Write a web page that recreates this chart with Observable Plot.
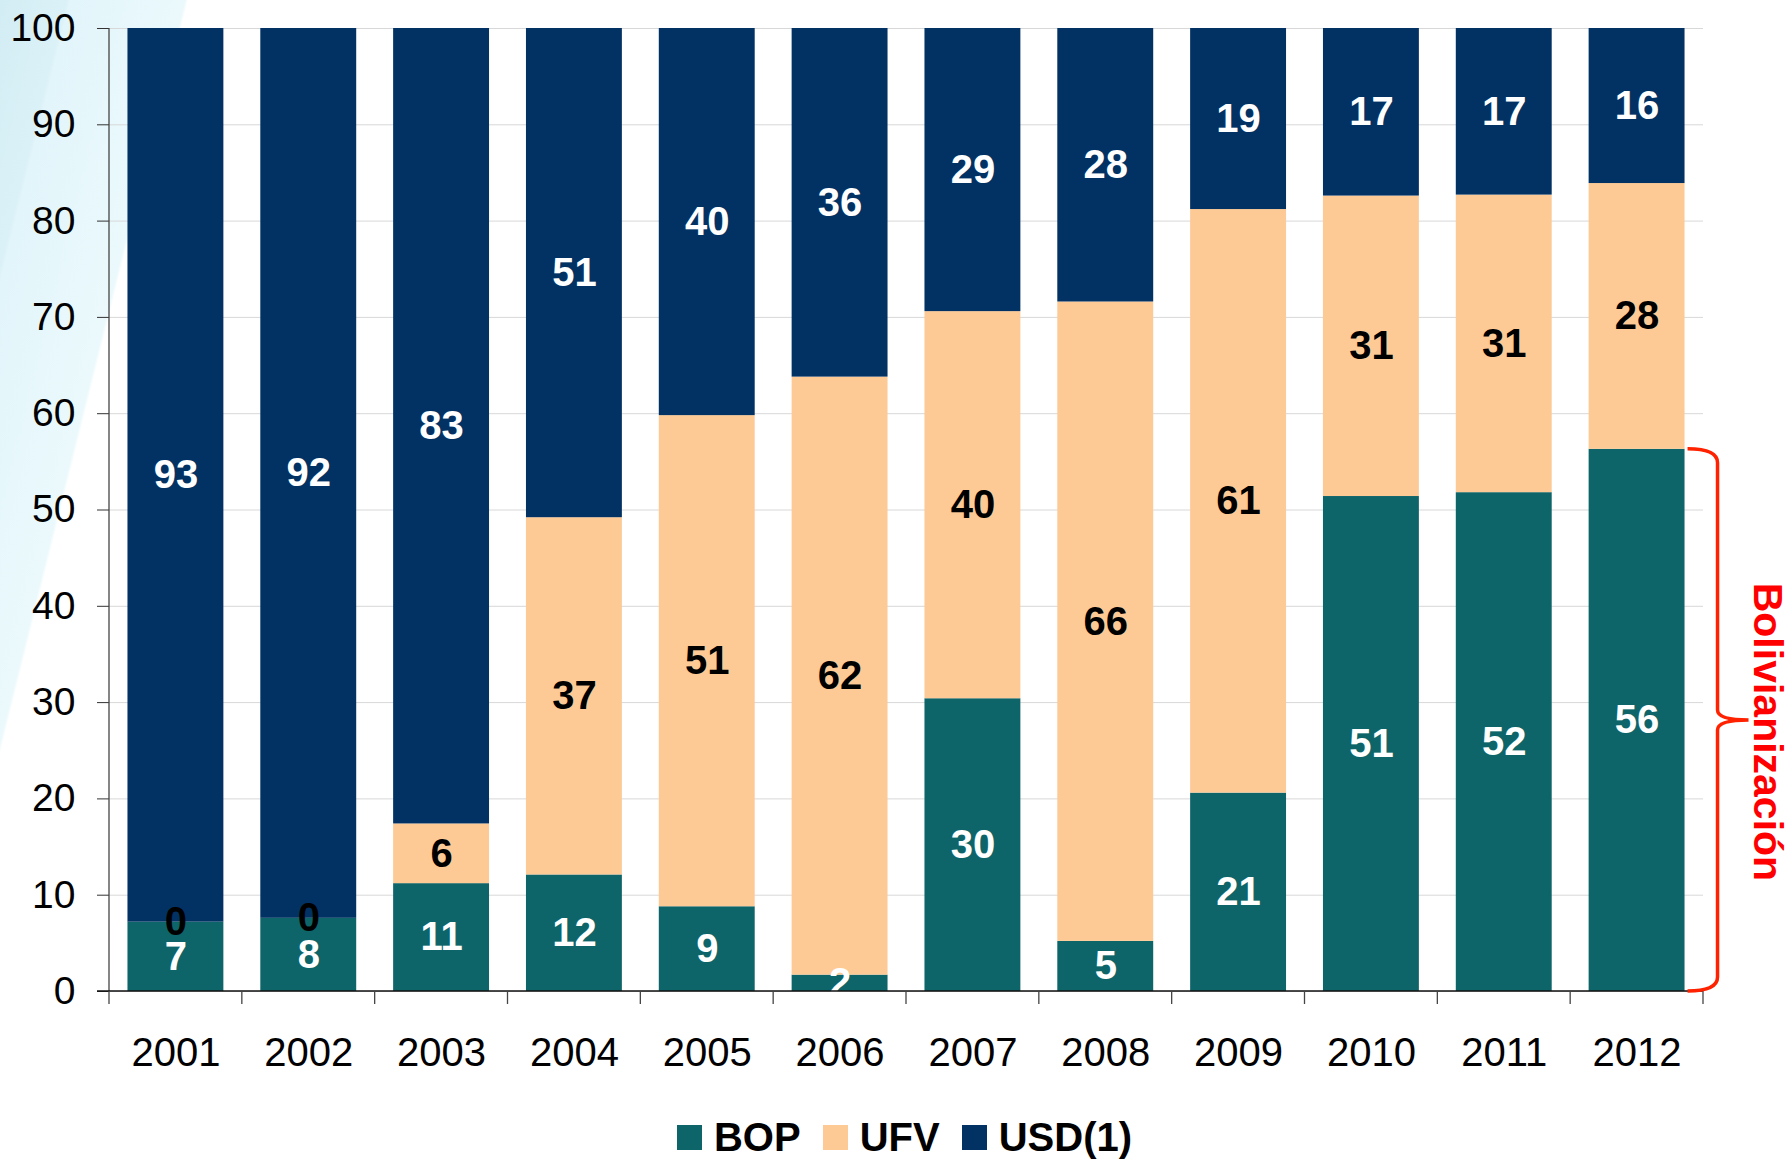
<!DOCTYPE html>
<html><head><meta charset="utf-8">
<script src="https://cdn.jsdelivr.net/npm/d3@7"></script>
<script src="https://cdn.jsdelivr.net/npm/@observablehq/plot@0.6"></script>
<style>
html,body{margin:0;padding:0;}
body{width:1791px;height:1159px;overflow:hidden;font-family:"Liberation Sans",Arial,sans-serif;color:#000;
background:linear-gradient(104deg,#d3edf4 0%,#daf1f7 3.2%,#e2f5fa 3.4%,#ebf9fc 8.9%,#ffffff 9.05%);}
#legend{display:flex;justify-content:center;align-items:center;margin-top:15px;height:44px;padding-left:18px;}
.item{display:flex;align-items:center;margin:0 11px;}
.sw{width:25px;height:25px;margin-right:12px;}
.lab{font-weight:bold;font-size:40px;line-height:44px;color:#000;}
</style></head><body><div id="chart"></div><div id="legend"></div>
<script>
const years = ["2001","2002","2003","2004","2005","2006","2007","2008","2009","2010","2011","2012"];
const seriesNames = ["BOP","UFV","USD(1)"];
const bop = [7.2, 7.6, 11.2, 12.1, 8.8, 1.7, 30.4, 5.2, 20.6, 51.4, 51.8, 56.3];
const ufv = [0, 0, 6.2, 37.1, 51.0, 62.1, 40.2, 66.4, 60.6, 31.2, 30.9, 27.6];
const usd = [92.8, 92.4, 82.6, 50.8, 40.2, 36.2, 29.4, 28.4, 18.8, 17.4, 17.3, 16.1];
const colors = ["#0e6569", "#fdca96", "#023263"];
const yTicks = [0, 10, 20, 30, 40, 50, 60, 70, 80, 90, 100];
const bracketLabel = "Bolivianización";

const seriesValues = [bop, ufv, usd];
const data = [];
years.forEach((yr, i) => {
  seriesNames.forEach((s, j) => data.push({year: yr, series: s, value: seriesValues[j][i]}));
});

const font = "'Liberation Sans', Arial, sans-serif";

function annotations(index, scales, values, dims) {
  const x = scales.x, y = scales.y;
  const bw = x.bandwidth();
  const step = x.step ? x.step() : (x(years[1]) - x(years[0]));
  const gap = step - bw;
  const left = dims.marginLeft, right = dims.width - dims.marginRight;
  const y0 = y(0), yTop = y(100);
  const g = d3.create("svg:g");
  g.append("line").attr("x1", left).attr("x2", left).attr("y1", yTop).attr("y2", y0)
    .attr("stroke", "#444").attr("stroke-width", 1.3);
  g.append("line").attr("x1", left - 12).attr("x2", right).attr("y1", y0).attr("y2", y0)
    .attr("stroke", "#111").attr("stroke-width", 1.5);
  const edges = years.map(yr => x(yr) - gap / 2).concat([x(years[years.length - 1]) + bw + gap / 2]);
  g.selectAll("line.edge").data(edges).join("line")
    .attr("x1", d => d).attr("x2", d => d).attr("y1", y0).attr("y2", y0 + 13)
    .attr("stroke", "#444").attr("stroke-width", 1.3);
  const last = years.length - 1;
  const yb = y(bop[last]);
  const x0 = x(years[last]) + bw + 3;
  const xs = x0 + 30, xm = x0 + 61;
  const ym = (yb + y0) / 2;
  const p = `M${x0},${yb} Q${xs},${yb} ${xs},${yb + 14} L${xs},${ym - 10} Q${xs},${ym} ${xm},${ym} Q${xs},${ym} ${xs},${ym + 10} L${xs},${y0 - 14} Q${xs},${y0} ${x0},${y0}`;
  g.append("path").attr("d", p).attr("fill", "none").attr("stroke", "#ff2200").attr("stroke-width", 3.5);
  g.append("text").attr("transform", `translate(${x0 + 80},${ym + 12}) rotate(90)`)
    .attr("text-anchor", "middle").attr("dominant-baseline", "central")
    .attr("font-family", font).attr("font-weight", "bold").attr("font-size", 41)
    .attr("fill", "#ff0000").text(bracketLabel);
  return g.node();
}

const chart = Plot.plot({
  width: 1791,
  height: 1100,
  marginLeft: 109,
  marginRight: 88,
  marginTop: 28,
  marginBottom: 109,
  style: {fontFamily: font, fontSize: "40px", background: "transparent", color: "#000", overflow: "visible"},
  x: {domain: years, paddingInner: 0.278, paddingOuter: 0.139, round: false, axis: null},
  y: {domain: [0, 100], axis: null},
  color: {domain: seriesNames, range: colors},
  marks: [
    Plot.gridY(yTicks, {stroke: "#d8d8d8", strokeOpacity: 1}),
    Plot.barY(data, {x: "year", y: "value", fill: "series"}),
    Plot.text(data, Plot.stackY({x: "year", y: "value", z: "series",
      text: d => d.series === "UFV" ? null : String(Math.round(d.value)),
      fill: "white", fontWeight: "bold", fontSize: 40, lineAnchor: "middle"})),
    Plot.text(data, Plot.stackY({x: "year", y: "value", z: "series",
      text: d => d.series === "UFV" ? String(Math.round(d.value)) : null,
      fill: "black", fontWeight: "bold", fontSize: 40, lineAnchor: "middle"})),
    Plot.axisX({tickSize: 0, tickPadding: 46, fontSize: 40, label: null}),
    Plot.axisY({ticks: yTicks, tickSize: 12, tickPadding: 22, fontSize: 39, stroke: "#333", tickFormat: d => String(d), label: null}),
    annotations
  ]
});
document.getElementById("chart").appendChild(chart);

const legend = document.getElementById("legend");
seriesNames.forEach((s, i) => {
  const item = document.createElement("div");
  item.className = "item";
  const sw = document.createElement("div");
  sw.className = "sw";
  sw.style.background = colors[i];
  const lab = document.createElement("span");
  lab.className = "lab";
  lab.textContent = s;
  item.appendChild(sw); item.appendChild(lab);
  legend.appendChild(item);
});
</script></body></html>
